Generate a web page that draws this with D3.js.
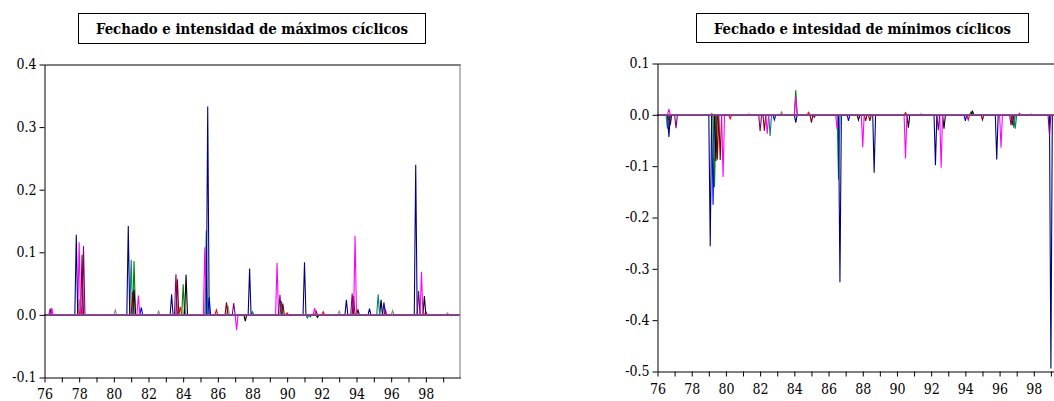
<!DOCTYPE html>
<html>
<head>
<meta charset="utf-8">
<script src="https://cdn.jsdelivr.net/npm/d3@7"></script>
<style>
  html, body { margin: 0; padding: 0; background: #fff; }
  svg { display: block; }
  .tick text { font-family: "DejaVu Serif Condensed", "DejaVu Serif", serif; font-size: 14px; fill: #000; }
</style>
</head>
<body>
<svg id="chart" width="1054" height="401"></svg>
<script>
// ---------------- DATA ----------------
// Monthly data 1976M01–1999M12; all months not listed are 0.
const years = d3.range(1976, 2000);
const yTicksMax = [-0.1, 0.0, 0.1, 0.2, 0.3, 0.4];
const yTicksMin = [-0.5, -0.4, -0.3, -0.2, -0.1, 0.0, 0.1];
const titleMax = "Fechado e intensidad de máximos cíclicos";
const titleMin = "Fechado e intesidad de mínimos cíclicos";

// Cyclical maxima (left panel): [month, value]
const maxGray    = [["1978-01",0.025],["1980-02",0.008],["1982-08",0.006],["1984-02",0.010],["1986-08",0.015],["1993-01",0.006],["1996-02",0.007],["1999-04",0.003]];
const maxRed     = [["1978-02",0.015],["1983-11",0.013],["1985-12",0.008],["1990-01",0.003],["1992-02",0.005],["1995-09",0.008],["1998-01",0.005]];
const maxBlue    = [["1981-08",0.012],["1985-07",0.028],["1995-08",0.020]];
const maxGreen   = [["1981-03",0.086],["1984-01",0.049],["1989-09",0.022],["1991-05",-0.003]];
const maxBlack   = [["1981-03",0.040],["1984-03",0.064],["1987-08",-0.010],["1991-10",-0.004],["1994-02",0.008],["1995-06",0.024],["1997-12",0.030]];
const maxTeal    = [["1981-01",0.088],["1985-05",0.135],["1988-01",0.005],["1991-03",-0.005],["1995-04",0.033]];
const maxMaroon  = [["1978-03",0.096],["1981-02",0.037],["1983-09",0.057],["1986-07",0.020],["1989-10",0.018],["1991-09",0.006],["1993-11",0.030]];
const maxMagenta = [["1976-06",0.011],["1978-01",0.116],["1981-06",0.031],["1985-04",0.108],["1987-02",-0.024],["1989-06",0.083],["1991-08",0.011],["1993-12",0.126],["1997-10",0.069]];
const maxNavy    = [["1977-11",0.128],["1980-11",0.142],["1983-05",0.033],["1985-06",0.333],["1987-11",0.074],["1991-01",0.084],["1993-06",0.024],["1994-10",0.010],["1997-06",0.240]];
const maxPurple  = [["1976-05",0.010],["1978-04",0.110],["1983-08",0.065],["1986-12",0.019],["1989-08",0.032],["1993-10",0.034],["1997-08",0.038]];

// Cyclical minima (right panel): [month, value]
const minGray    = [["1979-03",0.003],["1983-04",0.006],["1997-11",0.002]];
const minRed     = [["1980-04",-0.008],["1984-11",0.005],["1990-07",0.004],["1994-03",-0.010],["1997-03",0.003]];
const minBlue    = [["1979-04",-0.175],["1982-11",-0.010],["1987-03",-0.012],["1994-01",-0.012]];
const minGreen   = [["1979-05",-0.141],["1984-02",0.048],["1994-05",0.006],["1996-11",-0.025]];
const minBlack   = [["1979-06",-0.090],["1987-10",-0.010],["1990-09",-0.025],["1992-10",-0.027],["1994-06",0.007]];
const minTeal    = [["1976-08",-0.027],["1982-08",-0.041],["1986-08",-0.126],["1996-12",-0.027]];
const minMaroon  = [["1976-10",-0.020],["1979-07",-0.087],["1979-09",-0.088],["1982-04",-0.031],["1985-01",-0.015],["1988-03",-0.012],["1988-06",-0.012],["1995-01",-0.010],["1996-10",-0.020]];
const minMagenta = [["1976-09",0.011],["1979-11",-0.121],["1981-05",0.002],["1982-06",-0.037],["1984-02",0.035],["1986-07",-0.028],["1988-01",-0.063],["1990-07",-0.085],["1991-06",0.002],["1992-08",-0.103],["1996-02",-0.064]];
const minNavy    = [["1976-09",-0.043],["1979-02",-0.256],["1984-02",-0.015],["1986-09",-0.326],["1988-09",-0.113],["1992-04",-0.098],["1995-11",-0.087],["1999-01",-0.494]];
const minPurple  = [["1977-02",-0.026],["1982-01",-0.032],["1985-03",-0.005],["1992-06",-0.030],["1996-09",-0.020],["1998-12",-0.040]];

const seriesColors = {
  gray: "#8c8c8c", red: "#ff0000", blue: "#0000ff", green: "#008000", black: "#000000",
  teal: "#008080", maroon: "#800000", magenta: "#ff00ff", navy: "#000080", purple: "#800080"
};
const baselineColor = "#8a4a8e";

const maxSeries = [["gray",maxGray],["red",maxRed],["blue",maxBlue],["green",maxGreen],["black",maxBlack],["teal",maxTeal],["maroon",maxMaroon],["magenta",maxMagenta],["navy",maxNavy],["purple",maxPurple]];
const minSeries = [["gray",minGray],["red",minRed],["blue",minBlue],["green",minGreen],["black",minBlack],["teal",minTeal],["maroon",minMaroon],["magenta",minMagenta],["navy",minNavy],["purple",minPurple]];

// ---------------- BUILD ----------------
const NMONTHS = 24 * 12;
function toMonthly(spikes) {
  const m = new Map(spikes.map(([k, v]) => [k, v]));
  return d3.range(NMONTHS).map(i => {
    const y = 1976 + Math.floor(i / 12), mo = (i % 12) + 1;
    const key = y + "-" + String(mo).padStart(2, "0");
    return { t: 1976 + i / 12, v: m.has(key) ? m.get(key) : 0 };
  });
}

const svg = d3.select("#chart");

function panel(cfg) {
  const x = d3.scaleLinear().domain([1976, 2000]).range([cfg.x0, cfg.x1]);
  const y = d3.scaleLinear().domain(cfg.yDomain).range([cfg.yBottom, cfg.yTop]);
  const g = svg.append("g");

  // title box
  g.append("rect").attr("x", cfg.tx0 + 0.5).attr("y", cfg.ty0 + 0.5)
    .attr("width", cfg.tx1 - cfg.tx0).attr("height", cfg.ty1 - cfg.ty0)
    .attr("fill", "#fff").attr("stroke", "#000").attr("stroke-width", 1);
  g.append("text").attr("x", (cfg.tx0 + cfg.tx1) / 2 + 0.5).attr("y", cfg.tBase)
    .attr("text-anchor", "middle")
    .attr("font-family", "'DejaVu Serif Condensed', 'DejaVu Serif', serif")
    .attr("font-weight", "bold").attr("font-size", 15.5)
    .attr("textLength", cfg.tLen).attr("lengthAdjust", "spacingAndGlyphs")
    .text(cfg.title);

  // series
  const line = d3.line().x(d => x(d.t)).y(d => y(d.v));
  const clipId = "clip" + cfg.id;
  svg.append("clipPath").attr("id", clipId).append("rect")
    .attr("x", cfg.x0).attr("y", cfg.yTop).attr("width", cfg.x1 - cfg.x0).attr("height", cfg.yBottom - cfg.yTop);
  const sg = g.append("g").attr("clip-path", "url(#" + clipId + ")");
  cfg.series.forEach(([name, spikes]) => {
    sg.append("path").datum(toMonthly(spikes))
      .attr("d", line).attr("fill", "none")
      .attr("stroke", seriesColors[name]).attr("stroke-width", 1.1)
      .attr("stroke-linejoin", "miter");
  });
  // zero line as drawn on top by last series
  sg.append("line").attr("x1", cfg.x0).attr("x2", cfg.x1)
    .attr("y1", y(0)).attr("y2", y(0))
    .attr("stroke", baselineColor).attr("stroke-width", 1.6);

  // frame (top + right)
  g.append("line").attr("x1", cfg.x0).attr("x2", cfg.x1).attr("y1", cfg.yTop + 0.5).attr("y2", cfg.yTop + 0.5)
    .attr("stroke", "#000");
  g.append("line").attr("x1", cfg.x1 - 0.5).attr("x2", cfg.x1 - 0.5).attr("y1", cfg.yTop).attr("y2", cfg.yBottom)
    .attr("stroke", "#777");

  // axes
  const xAxis = d3.axisBottom(x).tickValues(years).tickSize(5).tickSizeOuter(0)
    .tickFormat(d => d % 2 === 0 ? String(d).slice(2) : "");
  const gx = g.append("g").attr("transform", "translate(0," + cfg.yBottom + ")").call(xAxis);
  gx.selectAll(".tick text").attr("dy", cfg.xLabelDy);

  const yAxis = d3.axisLeft(y).tickValues(cfg.yTicks).tickSize(5).tickSizeOuter(0)
    .tickFormat(d3.format(".1f"));
  const gy = g.append("g").attr("transform", "translate(" + cfg.x0 + ",0)").call(yAxis);
  gy.selectAll(".tick text").attr("x", -8).text(d => d3.format(".1f")(d).replace("−", "-"));
  [gx, gy].forEach(a => { a.selectAll("path, line").attr("stroke", "#000"); });
}

panel({
  id: "L", title: titleMax, series: maxSeries,
  x0: 44.5, x1: 460.5, yTop: 64.5, yBottom: 377.5,
  yDomain: [-0.1, 0.4], yTicks: yTicksMax,
  tx0: 78, tx1: 425, ty0: 13, ty1: 43, tBase: 34, tLen: 312,
  xLabelDy: "0.95em"
});

panel({
  id: "R", title: titleMin, series: minSeries,
  x0: 657.5, x1: 1068, yTop: 63.5, yBottom: 371.5,
  yDomain: [-0.5, 0.1], yTicks: yTicksMin,
  tx0: 696, tx1: 1028, ty0: 13, ty1: 42, tBase: 33.5, tLen: 297,
  xLabelDy: "1.05em"
});
</script>
</body>
</html>
